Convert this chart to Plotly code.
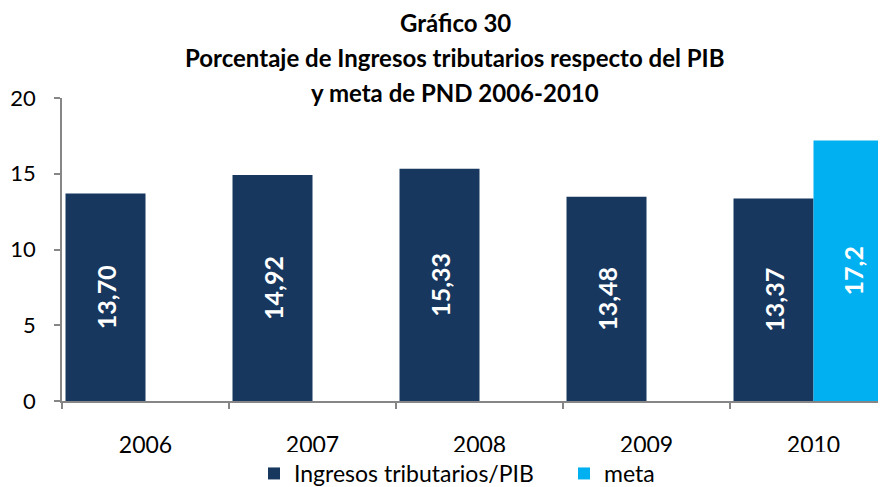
import plotly.graph_objects as go

years = ["2006", "2007", "2008", "2009", "2010"]
ingresos = [13.70, 14.92, 15.33, 13.48, 13.37]
meta_years = ["2010"]
meta = [17.2]
ingresos_labels = ["13,70", "14,92", "15,33", "13,48", "13,37"]
meta_labels = ["17,2"]
yticks = [0, 5, 10, 15, 20]

FONT = "Lato"
NAVY = "#17375E"
CYAN = "#00B0F0"
GRID = "#868686"

# page body has an 8px default margin: size the figure to the visible area
OFF = 8
W, H = 886 - OFF, 487 - OFF
L, T, B = 62 - OFF, 98.3 - OFF, 487 - 401.5
PH = H - T - B
PW = W - L

fig = go.Figure()
fig.add_trace(go.Bar(
    x=years, y=ingresos, name="Ingresos tributarios/PIB",
    marker=dict(color=NAVY, line=dict(width=0)),
    text=ingresos_labels, textposition="inside", textangle=-90,
    insidetextanchor="middle",
    textfont=dict(family=FONT, size=25, color="white", weight="bold"),
))
fig.add_trace(go.Bar(
    x=meta_years, y=meta, name="meta",
    marker=dict(color=CYAN, line=dict(width=0)),
    text=meta_labels, textposition="inside", textangle=-90,
    insidetextanchor="middle",
    textfont=dict(family=FONT, size=25, color="white", weight="bold"),
))

titles = ["Gráfico 30",
          "Porcentaje de Ingresos tributarios respecto del PIB",
          "y meta de PND 2006-2010"]
title_y = [23, 58, 93]
for t, yy in zip(titles, title_y):
    fig.add_annotation(text="<b>" + t + "</b>", xref="paper", yref="paper",
                       x=(455 - 62) / PW, y=1 + (98.3 - yy) / PH,
                       xanchor="center", yanchor="middle", showarrow=False,
                       borderpad=0,
                       font=dict(family=FONT, size=24, color="black"))

fig.update_layout(
    width=W, height=H,
    margin=dict(l=L, r=0, t=T, b=B, pad=0, autoexpand=False),
    paper_bgcolor="white", plot_bgcolor="white",
    barmode="group", bargap=0.042, bargroupgap=0,
    showlegend=True,
    legend=dict(orientation="h", x=(254 - 62) / PW, xanchor="left",
                yref="container", y=1 - 444 / H, yanchor="top",
                font=dict(family=FONT, size=23, color="black"),
                itemwidth=30, tracegroupgap=0, itemsizing="constant",
                entrywidth=265),
    font=dict(family=FONT, color="black"),
    xaxis=dict(type="category", categoryorder="array", categoryarray=years,
               range=[-0.5, -0.5 + PW / 167], automargin=False,
               showline=True, linecolor=GRID, linewidth=1.5,
               ticks="outside", tickson="boundaries", ticklen=6,
               tickcolor=GRID, tickwidth=1.5,
               tickfont=dict(family=FONT, size=23, color="black"),
               ticklabelstandoff=23, showgrid=False, zeroline=False),
    yaxis=dict(range=[0, 20], tickvals=yticks, automargin=False,
               showline=True, linecolor=GRID, linewidth=1.5,
               ticks="outside", ticklen=6, tickcolor=GRID, tickwidth=1.5,
               tickfont=dict(family=FONT, size=22, color="black"),
               ticklabelstandoff=14, showgrid=False, zeroline=False),
)

fig.write_html("out.html")
